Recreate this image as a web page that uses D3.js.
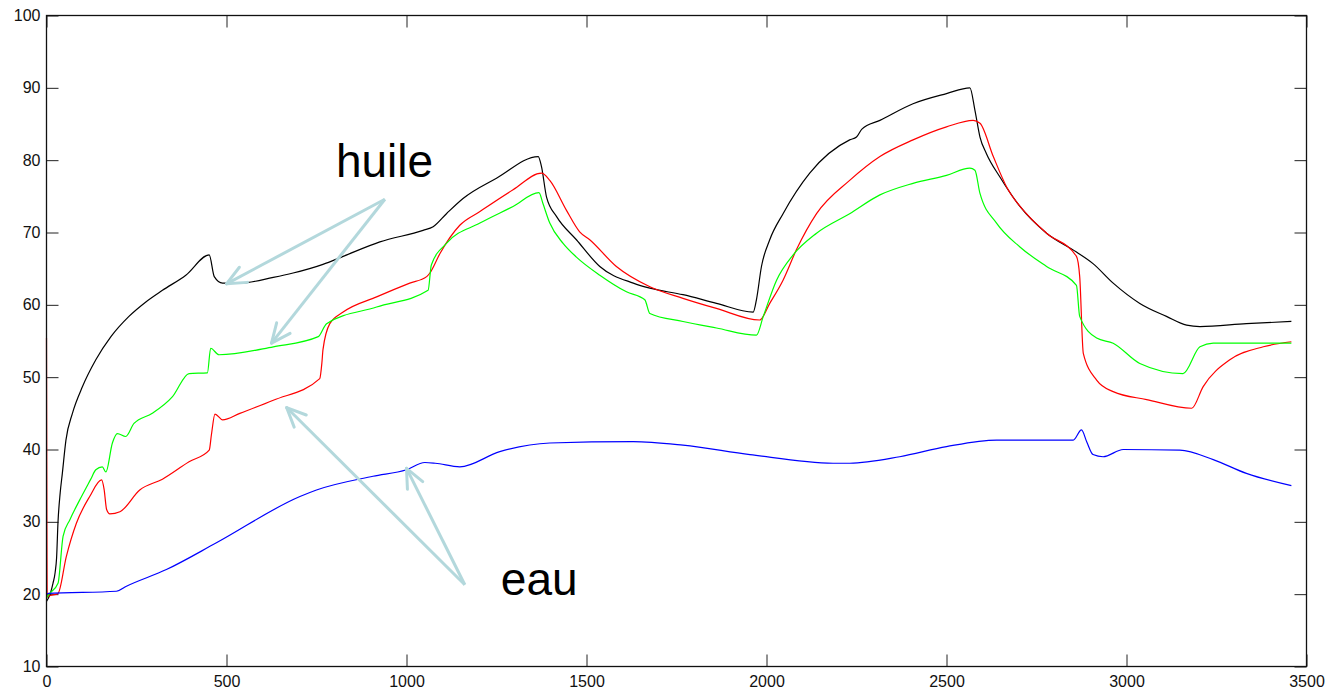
<!DOCTYPE html>
<html>
<head>
<meta charset="utf-8">
<script src="https://cdn.jsdelivr.net/npm/d3@7"></script>
<style>
  html, body { margin: 0; padding: 0; background: #fff; }
  svg { display: block; }
  .tick text { font-family: "Liberation Sans", Arial, sans-serif; font-size: 16px; fill: #111; }
</style>
</head>
<body>
<svg id="chart" width="1332" height="695"></svg>
<script>
// ---- data (time, temperature) ----
const xTicks = [0, 500, 1000, 1500, 2000, 2500, 3000, 3500];
const yTicks = [10, 20, 30, 40, 50, 60, 70, 80, 90, 100];

const blackSeries = [[0,19.0],[10,20],[18,21.5],[24,23],[28,25],[32,30],[38,34],[44,36.7],[54,41.3],[72,45.0],[100,48.7],[137,52.4],[179,55.6],[229,58.4],[276,60.4],[322,62.0],[387,64.1],[452,66.9],[466,63.9],[489,63.0],[537,63.0],[630,63.8],[685,64.4],[768,65.6],[824,66.7],[926,68.7],[1046,70.3],[1074,70.8],[1111,72.6],[1157,74.7],[1250,77.5],[1366,80.5],[1375,79.1],[1389,74.9],[1417,72.2],[1472,69.0],[1537,65.3],[1630,63.0],[1676,62.3],[1768,61.4],[1861,60.2],[1963,59.0],[1972,60.7],[1986,65.3],[2009,69.0],[2046,72.6],[2120,78.2],[2231,82.8],[2250,83.2],[2265,84.3],[2315,85.5],[2407,87.8],[2500,89.2],[2565,90.0],[2579,86.9],[2593,83.2],[2611,80.9],[2648,77.7],[2704,73.6],[2778,69.9],[2861,67.3],[2907,65.7],[2963,63.0],[3037,60.2],[3111,58.4],[3167,57.2],[3204,57.0],[3333,57.4],[3458,57.7]];

const redSeries = [[0,55.4],[2,19.6],[5,19.7],[32,20.1],[55,25.2],[83,29.8],[120,33.5],[153,35.8],[160,34.5],[167,31.7],[176,31.1],[204,31.4],[259,34.4],[322,35.9],[396,38.3],[452,39.9],[458,42.0],[468,44.9],[489,44.1],[537,45.0],[630,46.8],[759,49.8],[765,52.0],[768,53.8],[787,57.4],[824,59.0],[917,61.1],[1009,63.0],[1056,63.9],[1065,64.4],[1093,67.1],[1148,71.0],[1204,72.9],[1296,75.9],[1375,78.2],[1398,77.2],[1444,73.1],[1481,70.1],[1509,69.0],[1583,65.3],[1676,62.5],[1768,60.9],[1861,59.5],[1981,57.9],[2009,60.2],[2046,63.4],[2083,67.6],[2139,72.6],[2231,77.2],[2315,80.5],[2407,82.8],[2500,84.6],[2574,85.5],[2593,85.1],[2630,80.5],[2667,76.3],[2722,72.6],[2778,69.9],[2861,66.7],[2870,63.9],[2880,53.3],[2917,49.6],[2963,48.0],[3056,46.9],[3181,45.7],[3213,48.7],[3287,52.4],[3380,54.2],[3458,54.9]];

const greenSeries = [[0,19.5],[9,20.1],[32,21.5],[46,28.0],[65,30.3],[92,33.0],[123,35.9],[137,37.2],[155,37.6],[165,36.9],[183,40.9],[197,42.2],[220,41.8],[243,43.6],[294,45.0],[350,47.3],[396,50.5],[447,50.6],[456,54.0],[479,53.1],[630,54.2],[755,55.6],[778,57.4],[917,59.7],[1060,62.0],[1069,65.5],[1111,68.5],[1204,71.3],[1296,73.6],[1368,75.5],[1379,74.0],[1398,71.3],[1435,68.5],[1472,66.6],[1537,64.1],[1611,61.8],[1662,60.7],[1676,58.8],[1768,57.7],[1861,56.8],[1972,55.8],[1991,58.4],[2028,63.4],[2074,66.9],[2139,69.9],[2231,72.6],[2315,75.2],[2407,76.8],[2500,77.9],[2565,78.9],[2579,78.6],[2593,75.4],[2639,71.3],[2704,68.0],[2778,65.3],[2861,62.7],[2870,58.4],[2917,55.4],[2963,54.7],[3037,51.9],[3157,50.5],[3204,54.2],[3241,54.7],[3458,54.7]];

const blueSeries = [[0,19.9],[5,20.1],[194,20.4],[222,21.1],[333,23.4],[472,27.1],[704,33.5],[750,34.4],[907,36.3],[1000,37.2],[1051,38.2],[1080,38.1],[1148,37.6],[1259,39.7],[1398,40.9],[1630,41.1],[1768,40.6],[1954,39.3],[2185,38.1],[2231,38.1],[2370,39.0],[2500,40.4],[2639,41.3],[2852,41.3],[2875,42.7],[2890,41.0],[2907,39.3],[2935,39.0],[2991,40.0],[3148,39.9],[3241,38.6],[3333,36.7],[3458,35.0]];

const seriesColors = ["#000000", "#ff0000", "#00ff00", "#0000ff"];

// annotations: label, label anchor, arrow start, arrow tips (data coordinates)
const annotationLabels = ["huile", "eau"];
const annotationTextPos = [[804, 77.7], [1262, 19.9]];
const annotationStart = [[940, 74.6], [1162, 21.3]];
const annotationTips = [[[500, 62.9], [625, 54.7]], [[667, 45.8], [1000, 37.4]]];

// ---- chart ----
const svg = d3.select("#chart");
const x = d3.scaleLinear().domain([0, 3500]).range([46.5, 1306.5]);
const y = d3.scaleLinear().domain([10, 100]).range([666.5, 15.5]);

const tickLen = 12;
svg.append("g").attr("transform", `translate(0,${y(10)})`)
  .call(d3.axisBottom(x).tickValues(xTicks).tickSize(-tickLen).tickPadding(9).tickFormat(d3.format("d")))
  .call(g => g.select(".domain").remove());
svg.append("g").attr("transform", `translate(${x(0)},0)`)
  .call(d3.axisLeft(y).tickValues(yTicks).tickSize(-tickLen).tickPadding(6).tickFormat(d3.format("d")))
  .call(g => g.select(".domain").remove());
svg.append("g").attr("transform", `translate(0,${y(100)})`)
  .call(d3.axisTop(x).tickValues(xTicks).tickSize(-tickLen).tickFormat(""))
  .call(g => g.select(".domain").remove());
svg.append("g").attr("transform", `translate(${x(3500)},0)`)
  .call(d3.axisRight(y).tickValues(yTicks).tickSize(-tickLen).tickFormat(""))
  .call(g => g.select(".domain").remove());
svg.selectAll(".tick line").attr("stroke", "#222").attr("stroke-width", 1);

const line = d3.line().curve(d3.curveMonotoneX).x(d => x(d[0])).y(d => y(d[1]));
[blackSeries, redSeries, greenSeries, blueSeries].forEach((s, i) => {
  svg.append("path").datum(s)
    .attr("fill", "none")
    .attr("stroke", seriesColors[i])
    .attr("stroke-width", 1.2)
    .attr("stroke-linejoin", "round")
    .attr("d", line);
});

// box
svg.append("rect")
  .attr("x", x(0)).attr("y", y(100))
  .attr("width", x(3500) - x(0)).attr("height", y(10) - y(100))
  .attr("fill", "none").attr("stroke", "#111").attr("stroke-width", 1.3);

// annotations
const arrowColor = "#b3d8dc";
annotationLabels.forEach((lab, i) => {
  const s = annotationStart[i];
  const sx = x(s[0]), sy = y(s[1]);
  annotationTips[i].forEach(t => {
    const tx = x(t[0]), ty = y(t[1]);
    svg.append("line").attr("x1", sx).attr("y1", sy).attr("x2", tx).attr("y2", ty)
      .attr("stroke", arrowColor).attr("stroke-width", 3);
    const ang = Math.atan2(sy - ty, sx - tx);
    const hl = 21, ha = 0.42;
    [ang - ha, ang + ha].forEach(a => {
      svg.append("line").attr("x1", tx).attr("y1", ty)
        .attr("x2", tx + hl * Math.cos(a)).attr("y2", ty + hl * Math.sin(a))
        .attr("stroke", arrowColor).attr("stroke-width", 3).attr("stroke-linecap", "round");
    });
  });
  const p = annotationTextPos[i];
  svg.append("text").attr("x", x(p[0])).attr("y", y(p[1]))
    .attr("font-family", "'Liberation Sans', Arial, sans-serif")
    .attr("font-size", 46).attr("fill", "#000").text(lab);
});
</script>
</body>
</html>
